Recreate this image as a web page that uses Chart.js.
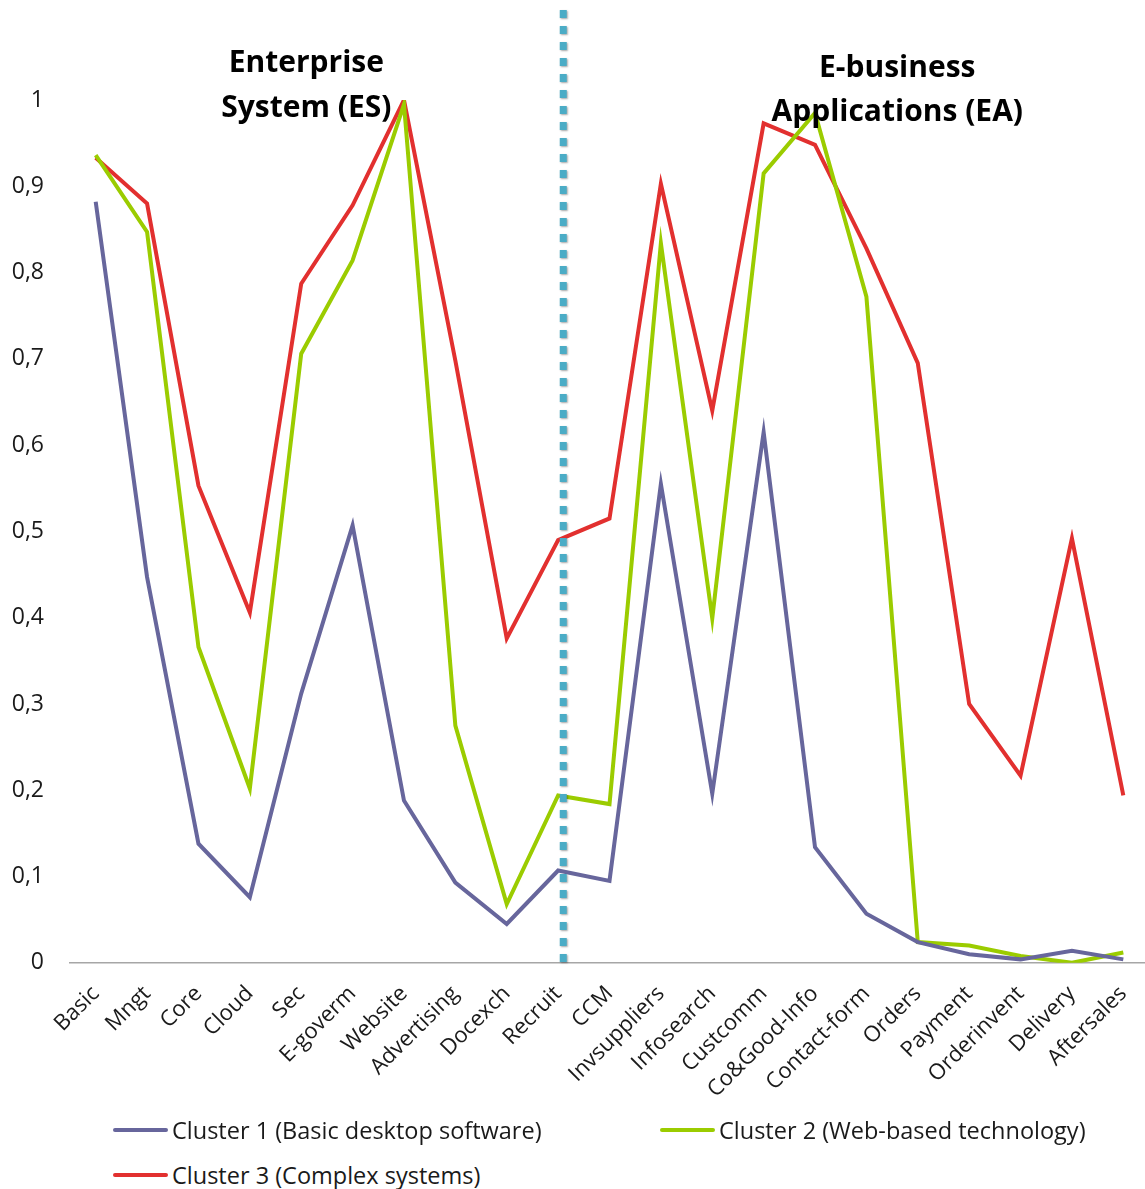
<!DOCTYPE html>
<html>
<head>
<meta charset="utf-8">
<script src="https://cdn.jsdelivr.net/npm/chart.js@4.4.0/dist/chart.umd.min.js"></script>
<style>
  body { margin: 0; background: #fff; overflow: hidden; }
  #wrap { position: relative; width: 1150px; height: 1189px; }
  #caixa { position: absolute; left: 0; top: 0; width: 1150px; height: 1129px; }
  #legenda { position: absolute; left: 0; top: 0; font-family: "Open Sans", sans-serif; font-size: 23.5px; color: #1a1a1a; }
  .item { position: absolute; white-space: nowrap; display: flex; align-items: center; }
  .amostra { width: 55px; height: 4px; border-radius: 2px; margin-right: 4px; }
</style>
</head>
<body>
<div id="wrap">
  <div id="caixa"><canvas id="grafico"></canvas></div>
  <div id="legenda"></div>
</div>
<script>
// Categorias (eixo x)
const categorias = ['Basic', 'Mngt', 'Core', 'Cloud', 'Sec', 'E-goverm', 'Website', 'Advertising', 'Docexch', 'Recruit',
    'CCM', 'Invsuppliers', 'Infosearch', 'Custcomm', 'Co&Good-Info', 'Contact-form', 'Orders', 'Payment', 'Orderinvent', 'Delivery', 'Aftersales'];

// Séries
const cluster1 = [0.882, 0.447, 0.138, 0.076, 0.312, 0.507, 0.188, 0.093, 0.045, 0.107,
    0.095, 0.555, 0.196, 0.615, 0.134, 0.057, 0.024, 0.010, 0.004, 0.014, 0.004];
const cluster2 = [0.936, 0.847, 0.366, 0.202, 0.706, 0.814, 0.995, 0.275, 0.068, 0.194,
    0.184, 0.834, 0.399, 0.915, 0.985, 0.772, 0.024, 0.020, 0.008, 0.000, 0.012];
const cluster3 = [0.933, 0.880, 0.553, 0.406, 0.787, 0.878, 1.000, 0.698, 0.376, 0.490,
    0.515, 0.903, 0.640, 0.973, 0.948, 0.828, 0.695, 0.300, 0.217, 0.492, 0.194];

const nomesSeries = ['Cluster 1 (Basic desktop software)', 'Cluster 2 (Web-based technology)', 'Cluster 3 (Complex systems)'];
const coresSeries = ['#67669C', '#9BCC00', '#E2302F'];

// Ticks do eixo y
const ticksY = [0, 0.1, 0.2, 0.3, 0.4, 0.5, 0.6, 0.7, 0.8, 0.9, 1];

// Títulos dos grupos
const titulosGrupos = [
    { linhas: ['Enterprise', 'System (ES)'], centro: 4.1 },
    { linhas: ['E-business', 'Applications (EA)'], centro: 15.6 }
];

// Linha pontilhada separando os grupos + títulos
const pluginSeparador = {
    id: 'separador',
    afterDatasetsDraw(chart) {
        const ctx = chart.ctx;
        const x = chart.scales.x.getPixelForValue(9.1);
        ctx.save();
        ctx.strokeStyle = '#4BACC6';
        ctx.lineWidth = 7;
        ctx.setLineDash([8, 8]);
        ctx.shadowColor = 'rgba(0,0,0,0.35)';
        ctx.shadowBlur = 2;
        ctx.shadowOffsetX = 1;
        ctx.shadowOffsetY = 1;
        ctx.beginPath();
        ctx.moveTo(x, 10);
        ctx.lineTo(x, chart.chartArea.bottom);
        ctx.stroke();
        ctx.restore();

        ctx.save();
        ctx.fillStyle = '#000';
        ctx.font = 'bold 30px "Open Sans"';
        ctx.textAlign = 'center';
        ctx.textBaseline = 'alphabetic';
        const xs = chart.scales.x;
        ctx.fillText(titulosGrupos[0].linhas[0], xs.getPixelForValue(titulosGrupos[0].centro), 72);
        ctx.fillText(titulosGrupos[0].linhas[1], xs.getPixelForValue(titulosGrupos[0].centro), 117);
        ctx.fillText(titulosGrupos[1].linhas[0], xs.getPixelForValue(titulosGrupos[1].centro), 77);
        ctx.fillText(titulosGrupos[1].linhas[1], xs.getPixelForValue(titulosGrupos[1].centro), 121);
        ctx.restore();
    }
};

function montarGrafico() {
    const ctx = document.getElementById('grafico');
    const dados = [cluster1, cluster2, cluster3];
    const grafico = new Chart(ctx.getContext('2d'), {
        type: 'line',
        data: {
            labels: categorias,
            datasets: dados.map((d, i) => ({
                label: nomesSeries[i],
                data: d,
                borderColor: coresSeries[i],
                backgroundColor: coresSeries[i],
                borderWidth: 4,
                pointRadius: 0,
                tension: 0,
                fill: false
            }))
        },
        options: {
            responsive: true,
            maintainAspectRatio: false,
            animation: false,
            layout: { padding: { top: 100, left: 10, right: 1, bottom: 8 } },
            plugins: { legend: { display: false }, tooltip: { enabled: false } },
            scales: {
                x: {
                    offset: true,
                    afterFit: (eixo) => { eixo.paddingRight = 0; },
                    grid: { display: false, drawTicks: false },
                    border: { display: true, color: '#A6A6A6', width: 1.5 },
                    ticks: {
                        autoSkip: false,
                        maxRotation: 45,
                        minRotation: 45,
                        padding: 18,
                        color: '#1a1a1a',
                        font: { family: 'Open Sans', size: 22 }
                    }
                },
                y: {
                    min: 0,
                    max: 1,
                    afterBuildTicks: (eixo) => { eixo.ticks = ticksY.map(v => ({ value: v })); },
                    afterFit: (eixo) => { eixo.width = 60; },
                    grid: { display: false, drawTicks: false },
                    border: { display: false },
                    ticks: {
                        padding: 26,
                        color: '#1a1a1a',
                        font: { family: 'Open Sans', size: 23 },
                        callback: (v) => (v === 0 || v === 1) ? String(v) : v.toFixed(1).replace('.', ',')
                    }
                }
            }
        },
        plugins: [pluginSeparador]
    });
    montarLegenda(grafico);
}

// Legenda em HTML (posicionada como no Excel)
function montarLegenda(grafico) {
    const posicoes = [[113, 1130], [660, 1130], [113, 1175]];
    const leg = document.getElementById('legenda');
    grafico.data.datasets.forEach((ds, i) => {
        const item = document.createElement('div');
        item.className = 'item';
        item.style.left = posicoes[i][0] + 'px';
        item.style.top = (posicoes[i][1] - 15) + 'px';
        item.style.height = '30px';
        const amostra = document.createElement('span');
        amostra.className = 'amostra';
        amostra.style.background = ds.borderColor;
        const texto = document.createElement('span');
        texto.textContent = ds.label;
        item.appendChild(amostra);
        item.appendChild(texto);
        leg.appendChild(item);
    });
}

montarGrafico();
</script>
</body>
</html>
